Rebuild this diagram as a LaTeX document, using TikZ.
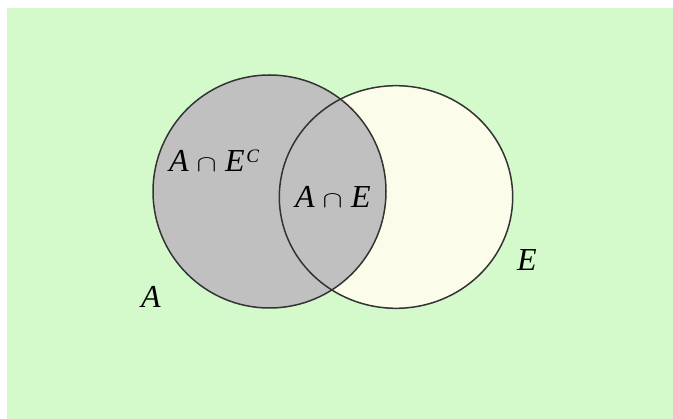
\documentclass[tikz,border=0pt]{standalone}
\usepackage{graphicx}
\usepackage{fontspec}
\setmainfont{Liberation Serif}
\definecolor{bggreen}{HTML}{D4FACC}
\definecolor{setgray}{HTML}{C0C0C0}
\definecolor{cream}{HTML}{FCFCEA}
\definecolor{edge}{HTML}{333333}
\newcommand{\supC}{\raisebox{9.5pt}{\fontsize{19}{20}\selectfont\itshape C}}
\newcommand{\capsym}{\hspace{8pt}\resizebox{20pt}{13pt}{$\cap$}\hspace{8.5pt}}
\tikzset{
  lbl/.style={inner sep=0pt, font=\fontsize{32}{36}\selectfont\itshape, text=black},
  setline/.style={draw=edge, line width=1.5pt}
}
\begin{document}
\begin{tikzpicture}[x=1pt,y=-1pt]
\useasboundingbox (0,0) rectangle (673,419);
\fill[white] (0,0) rectangle (673,419);
\fill[bggreen] (7,8) rectangle (673,419);
% E filled
\fill[cream] (396,197) ellipse [x radius=116.7, y radius=111.3];
% A filled
\fill[setgray] (269.5,191.5) circle [radius=116.5];
% outlines
\draw[setline] (396,197) ellipse [x radius=116.7, y radius=111.3];
\draw[setline] (269.5,191.5) circle [radius=116.5];
% labels
\node[lbl, anchor=base west] (acomp) at (169,171.7) {A\capsym E\kern1.5pt\supC};
\node[lbl, anchor=base west] (aint) at (295,207.3) {A\capsym E};
\node[lbl, anchor=base west] (la) at (141,307.7) {A};
\node[lbl, anchor=base west] (le) at (517,270.7) {E};
\end{tikzpicture}
\end{document}
